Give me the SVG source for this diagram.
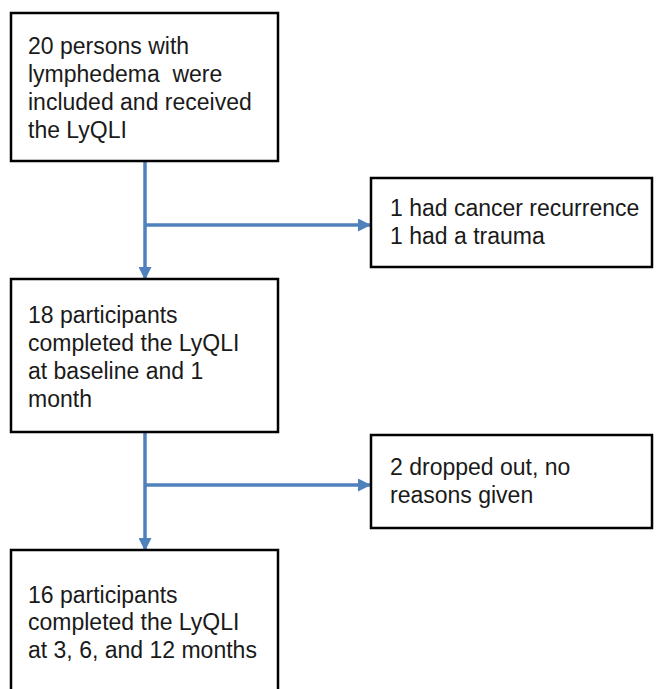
<svg xmlns="http://www.w3.org/2000/svg" width="658" height="689" viewBox="0 0 658 689">
<style>
.box{fill:#fff;stroke:#000;stroke-width:2.5}
.t{font-family:"Liberation Sans",Arial,sans-serif;font-size:23px;fill:#1a1a1a}
.c{stroke:#4f81bd;stroke-width:3.5;fill:none}
</style>
<defs>
<marker id="ah2" markerWidth="13" markerHeight="13" refX="12" refY="6.5" orient="auto" markerUnits="userSpaceOnUse" viewBox="0 0 13 13">
<path d="M0,0 L13,6.5 L0,13 z" fill="#4f81bd"/>
</marker>
</defs>
<rect width="658" height="689" fill="#fff"/>
<g id="connectors">
<line class="c" x1="145" y1="161" x2="145" y2="279" marker-end="url(#ah2)"/>
<line class="c" x1="145" y1="225" x2="370" y2="225" marker-end="url(#ah2)"/>
<line class="c" x1="145" y1="432" x2="145" y2="550" marker-end="url(#ah2)"/>
<line class="c" x1="145" y1="485" x2="370" y2="485" marker-end="url(#ah2)"/>
</g>
<g id="n1">
<rect class="box" x="11" y="13" width="267" height="148"/>
<text class="t" x="28" y="54">20 persons with</text>
<text class="t" x="28" y="82" xml:space="preserve">lymphedema  were</text>
<text class="t" x="28" y="110">included and received</text>
<text class="t" x="28" y="138">the LyQLI</text>
</g>
<g id="n2">
<rect class="box" x="371" y="178" width="281" height="89"/>
<text class="t" x="390" y="216">1 had cancer recurrence</text>
<text class="t" x="390" y="244">1 had a trauma</text>
</g>
<g id="n3">
<rect class="box" x="11" y="279" width="267" height="153"/>
<text class="t" x="28" y="323">18 participants</text>
<text class="t" x="28" y="351">completed the LyQLI</text>
<text class="t" x="28" y="379">at baseline and 1</text>
<text class="t" x="28" y="407">month</text>
</g>
<g id="n4">
<rect class="box" x="371" y="435" width="281" height="93"/>
<text class="t" x="390" y="475">2 dropped out, no</text>
<text class="t" x="390" y="503">reasons given</text>
</g>
<g id="n5">
<rect class="box" x="11" y="550" width="267" height="150"/>
<text class="t" x="28" y="603">16 participants</text>
<text class="t" x="28" y="630">completed the LyQLI</text>
<text class="t" x="28" y="658">at 3, 6, and 12 months</text>
</g>
</svg>
